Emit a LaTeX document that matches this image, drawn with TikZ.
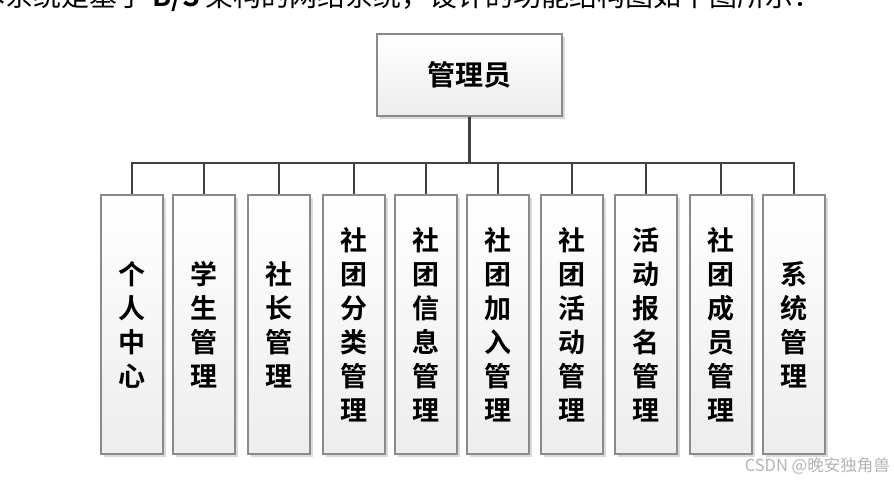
\documentclass[tikz,border=0pt]{standalone}
\usepackage{fontspec}
\newfontfamily\cjk{Noto Sans CJK SC}[BoldFont={* Bold}]
\usetikzlibrary{shadows}
\definecolor{edgegray}{HTML}{8A8A8A}
\definecolor{linkgray}{HTML}{404040}
\definecolor{shadegray}{HTML}{DADADA}
\definecolor{markgray}{HTML}{B4B4B4}

\begin{document}
\begin{tikzpicture}[
  x=1pt, y=-1pt,
  box/.style={rectangle, draw=edgegray, line width=1.3pt, top color=white, bottom color=black!7,
    drop shadow={shadow xshift=3pt, shadow yshift=-3pt, fill=shadegray, opacity=1},
    inner sep=0pt},
  fbox/.style={box, minimum width=62pt, minimum height=259pt, align=center,
    font=\cjk\bfseries\fontsize{27}{34}\selectfont},
  link/.style={draw=linkgray, line width=2.6pt}
]
  \useasboundingbox (0,0) rectangle (894,480);

  % clipped line of text above the chart
  \node[anchor=base east, inner sep=0pt, font=\cjk\fontsize{28}{28}\selectfont] (intro) at (822,6)
    {本系统是基于 \textbf{B/S} 架构的网络系统，设计的功能结构图如下图所示：};

  % root
  \node[box, minimum width=185pt, minimum height=82pt, font=\cjk\bfseries\fontsize{28}{28}\selectfont]
    (admin) at (469.5,75) {管理员};

  % function modules
  \node[fbox] (b1) at (132,324.5) {个\\人\\中\\心};
  \node[fbox] (b2) at (204,324.5) {学\\生\\管\\理};
  \node[fbox] (b3) at (279,324.5) {社\\长\\管\\理};
  \node[fbox] (b4) at (354,324.5) {社\\团\\分\\类\\管\\理};
  \node[fbox] (b5) at (426,324.5) {社\\团\\信\\息\\管\\理};
  \node[fbox] (b6) at (498,324.5) {社\\团\\加\\入\\管\\理};
  \node[fbox] (b7) at (572,324.5) {社\\团\\活\\动\\管\\理};
  \node[fbox] (b8) at (646,324.5) {活\\动\\报\\名\\管\\理};
  \node[fbox] (b9) at (721,324.5) {社\\团\\成\\员\\管\\理};
  \node[fbox] (b10) at (794,324.5) {系\\统\\管\\理};

  % bus line and drops
  \coordinate (bus) at (0,163);
  \foreach \i in {1,...,10}
    \draw[link] (admin.south) -- (admin.south |- bus) -| (b\i.north);

  % watermark
  \node[anchor=east, inner sep=0pt, text=markgray, font=\cjk\fontsize{16.5}{16.5}\selectfont]
    (mark) at (890,466) {CSDN @晚安独角兽};
\end{tikzpicture}
\end{document}
